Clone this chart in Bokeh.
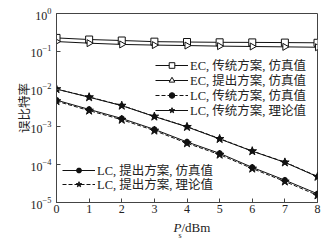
import math
from bokeh.plotting import figure
from bokeh.layouts import column
from bokeh.models import Range1d, FixedTicker, Legend, LegendItem
from bokeh.core.properties import value
from bokeh.embed import file_html
from bokeh.resources import INLINE

# ---- data ----
ps_dbm = [0, 1, 2, 3, 4, 5, 6, 7, 8]
ec_trad_sim = [0.226, 0.205, 0.193, 0.180, 0.176, 0.173, 0.172, 0.170, 0.168]
ec_prop_sim = [0.181, 0.164, 0.152, 0.146, 0.142, 0.137, 0.134, 0.131, 0.128]
lc_trad_sim = [1.0e-2, 6.2e-3, 3.7e-3, 1.9e-3, 1.02e-3, 4.9e-4, 2.3e-4, 1.17e-4, 4.9e-5]
lc_trad_theo = [1.0e-2, 6.1e-3, 3.65e-3, 1.88e-3, 1.0e-3, 4.8e-4, 2.28e-4, 1.15e-4, 4.8e-5]
lc_prop_sim = [5.1e-3, 2.9e-3, 1.67e-3, 8.6e-4, 4.0e-4, 2.0e-4, 8.5e-5, 3.9e-5, 1.7e-5]
lc_prop_theo = [4.8e-3, 2.7e-3, 1.55e-3, 8.0e-4, 3.7e-4, 1.85e-4, 7.9e-5, 3.6e-5, 1.55e-5]
x_ticks = [0, 1, 2, 3, 4, 5, 6, 7, 8]
y_ticks = [1e-5, 1e-4, 1e-3, 1e-2, 1e-1, 1e0]
labels = ["EC, 传统方案, 仿真值", "EC, 提出方案, 仿真值", "LC, 传统方案, 仿真值",
          "LC, 传统方案, 理论值", "LC, 提出方案, 仿真值", "LC, 提出方案, 理论值"]
y_label = "误比特率"
x_label_parts = ["P", "s", "/dBm"]

SERIF = "'Liberation Serif', 'Noto Sans CJK SC'"
AX = "#444444"
TXT = "#222222"

p = figure(width=328, height=219, y_axis_type="log", output_backend="svg",
           toolbar_location=None, x_range=Range1d(0, 8), y_range=Range1d(1e-5, 1),
           min_border_left=56, min_border_right=11, min_border_top=13, min_border_bottom=17)
p.frame_width = 261
p.frame_height = 189
p.xgrid.visible = False
p.ygrid.visible = False
p.outline_line_color = AX
p.outline_line_width = 1
p.background_fill_color = "white"

for ax in (p.xaxis[0], p.yaxis[0]):
    ax.axis_line_color = AX
    ax.major_tick_line_color = AX
    ax.major_tick_in = 4
    ax.major_tick_out = 0
    ax.minor_tick_in = 0
    ax.minor_tick_out = 0
    ax.major_label_text_font = SERIF
    ax.major_label_text_font_size = "12px"
    ax.major_label_text_color = TXT
p.xaxis.major_label_standoff = 2
p.yaxis.major_label_standoff = 5
p.xaxis.ticker = FixedTicker(ticks=x_ticks)
p.yaxis.ticker = FixedTicker(ticks=y_ticks)
p.yaxis.axis_label = y_label
p.yaxis.axis_label_text_font = SERIF
p.yaxis.axis_label_text_font_size = "12.5px"
p.yaxis.axis_label_text_font_style = "normal"
p.yaxis.axis_label_text_color = TXT
p.yaxis.axis_label_standoff = -4

C = "#111111"
r1l = p.line(ps_dbm, ec_trad_sim, line_color=C, line_width=1)
r1m = p.scatter(ps_dbm, ec_trad_sim, marker="square", size=7, fill_color="white", line_color=C)
r2l = p.line(ps_dbm, ec_prop_sim, line_color=C, line_width=1)
r2m = p.scatter(ps_dbm, ec_prop_sim, marker="triangle", angle=-math.pi / 2, size=7,
                fill_color="white", line_color=C)
r3l = p.line(ps_dbm, lc_trad_sim, line_color=C, line_width=1, line_dash="4 2")
r3m = p.scatter(ps_dbm, lc_trad_sim, marker="circle", size=4, fill_color=C, line_color=C)
r4l = p.line(ps_dbm, lc_trad_theo, line_color=C, line_width=1)
r4m = p.scatter(ps_dbm, lc_trad_theo, marker="star", size=9, fill_color=C, line_color=C)
r5l = p.line(ps_dbm, lc_prop_sim, line_color=C, line_width=1)
r5m = p.scatter(ps_dbm, lc_prop_sim, marker="asterisk", size=6, line_color=C, line_width=2)
r6l = p.line(ps_dbm, lc_prop_theo, line_color=C, line_width=1, line_dash="4 2")
r6m = p.scatter(ps_dbm, lc_prop_theo, marker="star", size=9, fill_color=C, line_color=C)

def mk_legend(item, loc):
    lg = Legend(items=[item], location=loc, orientation="vertical")
    lg.border_line_alpha = 0
    lg.background_fill_alpha = 0
    lg.padding = 0
    lg.margin = 0
    lg.spacing = 0
    lg.glyph_width = 33
    lg.glyph_height = 14
    lg.label_height = 14
    lg.label_standoff = 2
    lg.label_text_font = SERIF
    lg.label_text_font_size = "12.5px"
    lg.label_text_color = TXT
    return lg

# one legend per row so that row positions can be set exactly
row_h = 19
leg_specs = [
    (labels[0], [r1l, r1m], 99, 202.5 - 65 - row_h / 2),
    (labels[1], [r2l, r2m], 99, 202.5 - 80 - row_h / 2),
    (labels[2], [r3l, r3m], 99, 202.5 - 95 - row_h / 2),
    (labels[3], [r4l, r4m], 99, 202.5 - 110 - row_h / 2),
    (labels[4], [r5l, r5m], 6, 202.5 - 170 - row_h / 2),
    (labels[5], [r6l, r6m], 6, 202.5 - 184.3 - row_h / 2),
]
for lab, rends, lx, ly in leg_specs:
    p.add_layout(mk_legend(LegendItem(label=lab, renderers=rends), (lx, round(ly))))

# x-axis title strip: P_s/dBm. Its frame is aligned with the main frame (pixels 56..317),
# so the x range is set to those page pixels.
q = figure(width=328, height=24, output_backend="svg", toolbar_location=None,
           x_range=Range1d(56, 317), y_range=Range1d(0, 24),
           min_border_left=0, min_border_right=0, min_border_top=0, min_border_bottom=0)
q.axis.visible = False
q.grid.visible = False
q.outline_line_color = None
q.background_fill_color = "white"
q.border_fill_color = "white"
q.text(x=[173], y=[16.3], text=[x_label_parts[0]], text_font=value(SERIF), text_font_size="13px",
       text_font_style="italic", text_baseline="middle", text_align="left", text_color=TXT)
q.text(x=[178], y=[8.5], text=[x_label_parts[1]], text_font=value(SERIF), text_font_size="8px",
       text_baseline="middle", text_align="left", text_color=TXT)
q.text(x=[181], y=[16.3], text=[x_label_parts[2]], text_font=value(SERIF), text_font_size="13px",
       text_baseline="middle", text_align="left", text_color=TXT)

layout = column(p, q, spacing=0)
open("out.html", "w").write(file_html(layout, INLINE))
